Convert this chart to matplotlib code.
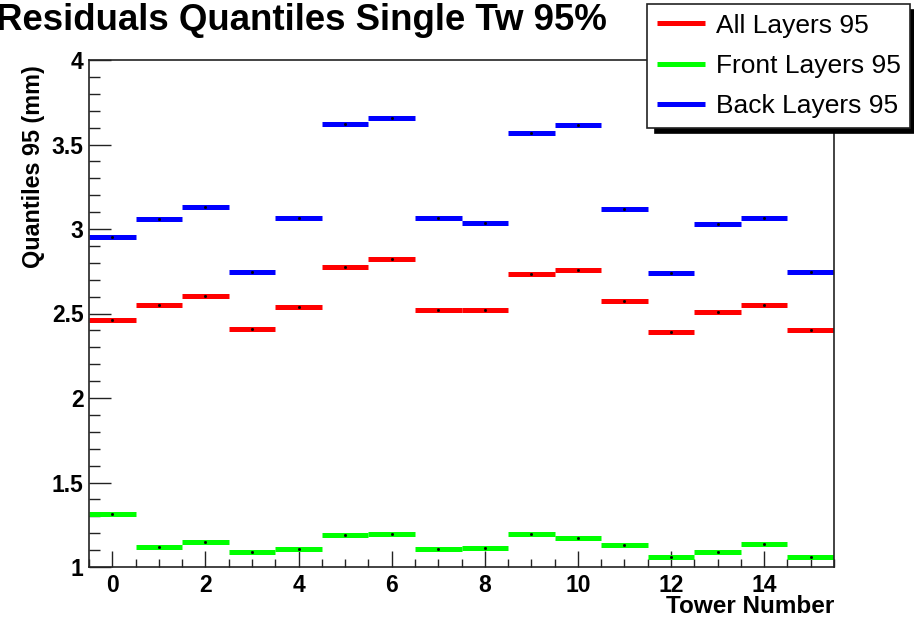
import numpy as np
import matplotlib
matplotlib.use('Agg')
import matplotlib.pyplot as plt
from matplotlib.ticker import MultipleLocator, FormatStrFormatter

plt.rcParams['font.family'] = ['Liberation Sans', 'DejaVu Sans']

towers = list(range(16))
all_layers = [2.462, 2.549, 2.604, 2.410, 2.540, 2.775, 2.821, 2.519,
              2.519, 2.736, 2.757, 2.572, 2.392, 2.511, 2.549, 2.402]
front_layers = [1.315, 1.117, 1.148, 1.087, 1.108, 1.188, 1.197, 1.105,
                1.112, 1.193, 1.172, 1.128, 1.059, 1.089, 1.138, 1.059]
back_layers = [2.954, 3.059, 3.132, 2.747, 3.065, 3.623, 3.655, 3.065,
               3.034, 3.568, 3.615, 3.120, 2.741, 3.030, 3.065, 2.746]
labels = ['All Layers 95', 'Front Layers 95', 'Back Layers 95']
colors = ['#ff0000', '#00ff00', '#0000ff']

fig = plt.figure(figsize=(9.14, 6.19), dpi=100)
ax = fig.add_axes([89/914, 1-567/619, 745/914, 507/619])

x = np.array(towers)
for vals, col, lab in zip([all_layers, front_layers, back_layers], colors, labels):
    ax.hlines(vals, x-0.5, x+0.5, colors=col, lw=3.6, label=lab)
    ax.plot(x, vals, ls='none', marker='s', ms=1.0, color='k')

ax.set_xlim(-0.5, 15.5)
ax.set_ylim(1, 4)

ax.xaxis.set_major_locator(MultipleLocator(2))
ax.xaxis.set_minor_locator(MultipleLocator(0.5))
ax.yaxis.set_major_locator(MultipleLocator(0.5))
ax.yaxis.set_minor_locator(MultipleLocator(0.1))
ax.yaxis.set_major_formatter(FormatStrFormatter('%g'))

ax.tick_params(axis='both', which='both', direction='in', top=False, right=False,
               color='#222222', width=1)
ax.tick_params(axis='y', which='major', length=16, pad=4, labelsize=16.5)
ax.tick_params(axis='y', which='minor', length=8)
ax.tick_params(axis='x', which='major', length=11.5, pad=5, labelsize=16.5)
ax.tick_params(axis='x', which='minor', length=5.8)
for t in ax.get_xticklabels() + ax.get_yticklabels():
    t.set_fontweight('bold')
for s in ax.spines.values():
    s.set_linewidth(1.2)
    s.set_color('#222222')

ax.set_xlabel('Tower Number', fontsize=17.5, fontweight='bold', ha='right', va='baseline')
ax.xaxis.set_label_coords(1.0, -0.0907)
ax.set_ylabel('Quantiles 95 (mm)', fontsize=16.8, fontweight='bold', loc='top')
ax.yaxis.set_label_coords(-0.0586, 0.99)

fig.text(-4/914, 1-30/619, 'Residuals Quantiles Single Tw 95%', fontsize=26.4,
         fontweight='bold', va='baseline', ha='left')

leg = ax.legend(loc='upper left', bbox_to_anchor=(647/914, 1-4/619),
                bbox_transform=fig.transFigure, fontsize=19, frameon=True,
                fancybox=False, framealpha=1, edgecolor='#222222',
                handlelength=1.82, handletextpad=0.42, borderpad=0.36,
                labelspacing=0.62, borderaxespad=0,
                shadow={'ox': 6, 'oy': -4, 'facecolor': 'black',
                        'edgecolor': 'black', 'alpha': 1})
leg.get_frame().set_linewidth(1.2)
for h in leg.legend_handles:
    h.set_linewidth(3.6)

fig.savefig('out.png', dpi=100)
